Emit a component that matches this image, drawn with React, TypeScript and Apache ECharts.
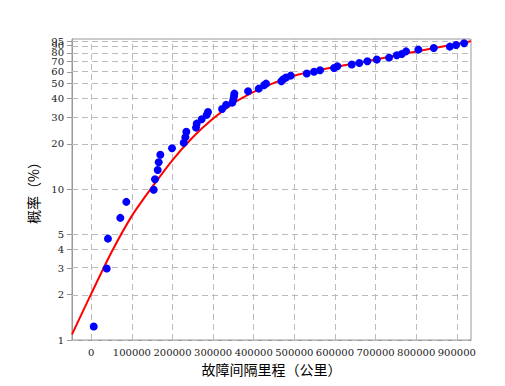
import React, { useEffect, useRef } from "react";
import * as echarts from "echarts";

// Tick values
const X_TICKS = [0, 100000, 200000, 300000, 400000, 500000, 600000, 700000, 800000, 900000];
const Y_TICKS = [1, 2, 3, 4, 5, 10, 20, 30, 40, 50, 60, 70, 80, 90, 95, 99];

// Observed failure points: mileage and cumulative probability (%)
const POINT_X = [
  6000, 38000, 41000, 71400, 86200, 153700, 156900, 163500, 166000, 170000,
  198800, 227600, 231600, 234000, 257900, 259600, 271900, 284200, 287400, 322000,
  331800, 347300, 349800, 351500, 352300, 386000, 412300, 425400, 430300, 468000,
  472900, 479500, 491100, 530500, 548500, 563300, 597800, 605900, 641300, 660000,
  679800, 703000, 733200, 752200, 764500, 775100, 805400, 843300, 882800, 898300,
  918000, 935300,
];
const POINT_P = [
  1.23, 2.98, 4.7, 6.45, 8.24, 9.9, 11.65, 13.4, 15.1, 16.9,
  18.7, 20.3, 22.1, 24.0, 25.6, 27.2, 29.1, 31.1, 32.5, 34.0,
  36.2, 37.5, 39.3, 41.3, 43.0, 44.6, 46.4, 48.9, 50.1, 51.9,
  53.5, 55.0, 56.6, 58.4, 60.0, 61.5, 63.6, 65.3, 67.0, 68.6,
  70.4, 72.3, 74.5, 77.2, 78.7, 82.0, 84.2, 86.2, 88.1, 90.3,
  92.7, 95.5,
];

// Fitted curve
const CURVE_X = [-47500, 0, 50000, 100000, 146000, 200000, 250000, 300000, 350000, 400000, 450000, 500000, 550000, 600000, 700000, 800000, 935000];
const CURVE_P = [1.09, 2.03, 3.83, 6.65, 10.0, 15.6, 22.1, 29.4, 37.1, 44.1, 50.7, 56.5, 61.0, 64.6, 72.4, 81.7, 95.5];

const lg = (v: number) => Math.log10(v);

export default function App() {
  const ref = useRef<HTMLDivElement>(null);
  useEffect(() => {
    if (!ref.current) return;
    const chart = echarts.init(ref.current, undefined, { renderer: "svg" });
    const tickFont = { fontFamily: "DejaVu Serif", fontSize: 10, color: "#222" };
    const option: any = {
      animation: false,
      backgroundColor: "#fff",
      grid: {
        left: 72, right: 34, top: 39, bottom: 46,
        show: true, borderColor: "#999", borderWidth: 1,
        containLabel: false, outerBoundsMode: "none",
      },
      xAxis: {
        type: "value", min: -47500, max: 935000,
        axisLine: { show: true, onZero: false, lineStyle: { color: "#999" } },
        axisTick: { show: false },
        axisLabel: { ...tickFont, customValues: X_TICKS, margin: 7, formatter: (v: number) => String(v) },
        splitLine: { show: false },
        name: "故障间隔里程（公里）", nameLocation: "middle", nameGap: 19,
        nameTextStyle: { fontFamily: "Noto Sans CJK SC", fontSize: 14, color: "#000" },
      },
      yAxis: {
        type: "value", min: 0, max: lg(99),
        axisLine: { show: true, onZero: false, lineStyle: { color: "#999" } },
        axisTick: { show: true, inside: false, length: 5, customValues: Y_TICKS.map(lg), lineStyle: { color: "#999" } },
        axisLabel: { ...tickFont, customValues: Y_TICKS.map(lg), margin: 8, formatter: (v: number) => String(Math.round(Math.pow(10, v))) },
        splitLine: { show: false },
        name: "概率（%）", nameLocation: "middle", nameGap: 21,
        nameTextStyle: { fontFamily: "Noto Sans CJK SC", fontSize: 14, color: "#000" },
      },
      series: [
        {
          type: "line", data: CURVE_X.map((x, i) => [x, lg(CURVE_P[i])]),
          smooth: 0.25, showSymbol: false, z: 3,
          lineStyle: { color: "#ff0000", width: 2 },
          markLine: {
            silent: true, z: 1, symbol: ["none", "none"], label: { show: false },
            lineStyle: { type: [6, 4], color: "#bbb", width: 1 },
            emphasis: { disabled: true },
            data: [
              ...X_TICKS.map((v) => ({ xAxis: v })),
              ...Y_TICKS.map((v) => ({ yAxis: lg(v) })),
            ],
          },
        },
        {
          type: "scatter", data: POINT_X.map((x, i) => [x, lg(POINT_P[i])]),
          symbolSize: 8, z: 4, itemStyle: { color: "#0000ff", opacity: 1 },
        },
      ],
    };
    chart.setOption(option);
    return () => chart.dispose();
  }, []);
  return <div ref={ref} style={{ position: "fixed", left: 0, top: 0, width: 505, height: 386 }} />;
}
